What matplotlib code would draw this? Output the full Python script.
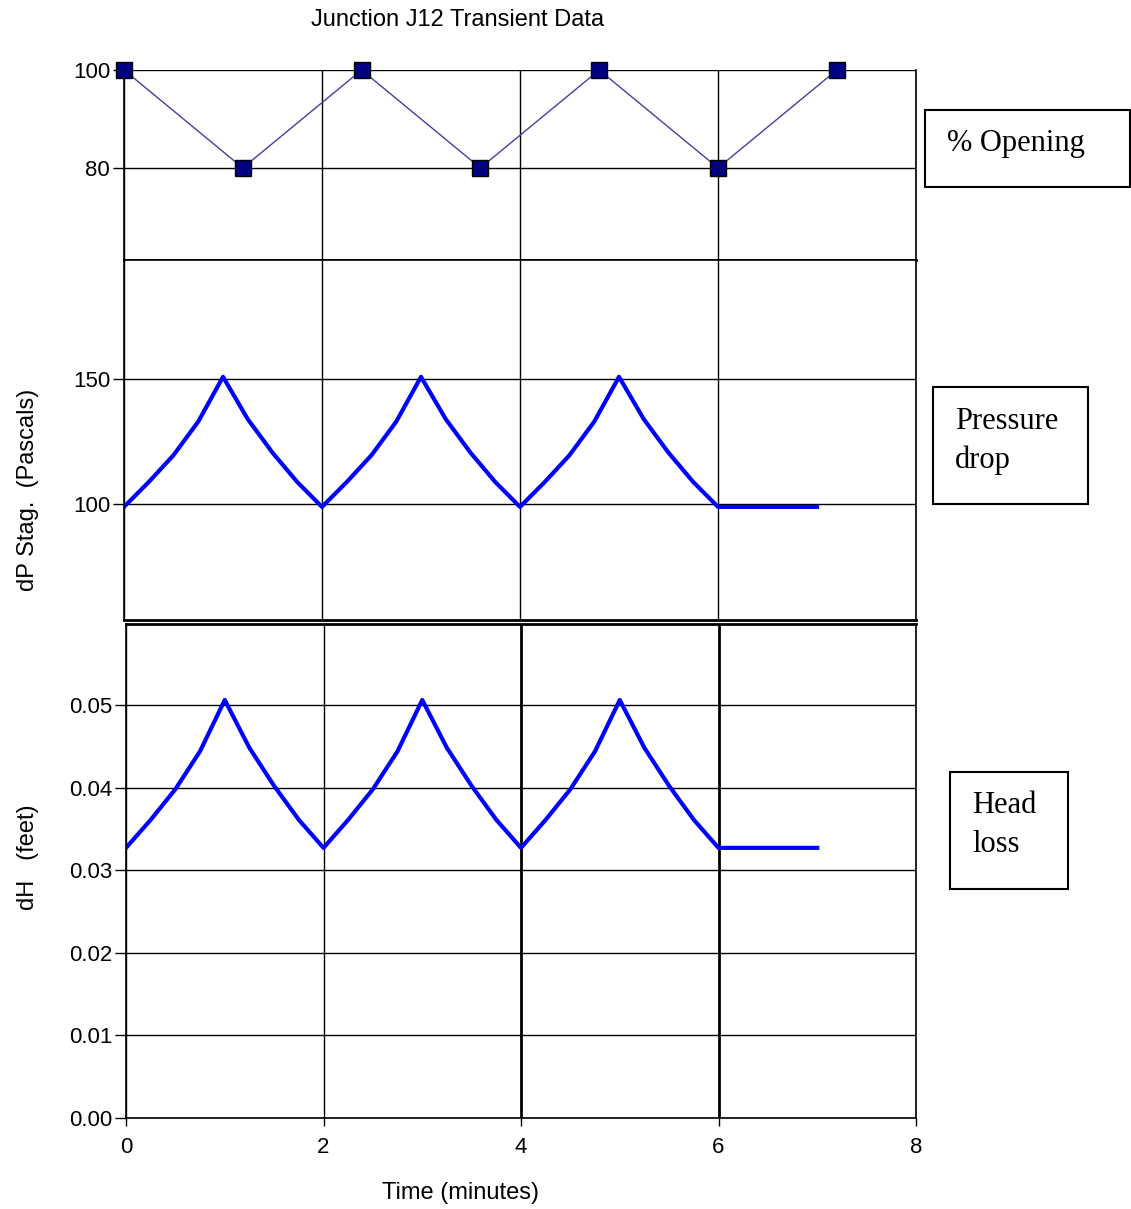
import matplotlib.pyplot as plt
from matplotlib.patches import Rectangle

# данные
t_open = [0, 1.2, 2.4, 3.6, 4.8, 6.0, 7.2]
opening = [100, 80, 100, 80, 100, 80, 100]

t_flow = [0, 0.25, 0.5, 0.75, 1.0, 1.25, 1.5, 1.75, 2.0,
          2.25, 2.5, 2.75, 3.0, 3.25, 3.5, 3.75, 4.0,
          4.25, 4.5, 4.75, 5.0, 5.25, 5.5, 5.75, 6.0, 7.0]
dp_stag = [98.7, 108.7, 119.5, 133, 151, 134, 120.5, 108.7, 98.7,
           108.7, 119.5, 133, 151, 134, 120.5, 108.7, 98.7,
           108.7, 119.5, 133, 151, 134, 120.5, 108.7, 98.7, 98.7]
dh_feet = [0.0327, 0.0361, 0.0398, 0.0444, 0.0506, 0.0448, 0.0402, 0.0361, 0.0327,
           0.0361, 0.0398, 0.0444, 0.0506, 0.0448, 0.0402, 0.0361, 0.0327,
           0.0361, 0.0398, 0.0444, 0.0506, 0.0448, 0.0402, 0.0361, 0.0327, 0.0327]

x_ticks = [0, 2, 4, 6, 8]
open_ticks = [80, 100]
dp_ticks = [100, 150]
dh_ticks = [0.00, 0.01, 0.02, 0.03, 0.04, 0.05]

plt.rcParams['font.family'] = ['Liberation Sans', 'DejaVu Sans']
W, H = 1131, 1209
fig = plt.figure(figsize=(W / 100, H / 100), dpi=100)


def px_axes(x0, y0, x1, y1):
    return fig.add_axes([x0 / W, 1 - y1 / H, (x1 - x0) / W, (y1 - y0) / H])


def style(ax, yticks, fmt, show_x=False):
    ax.set_xlim(0, 8)
    ax.set_xticks(x_ticks)
    ax.set_yticks(yticks)
    ax.set_yticklabels([fmt % v for v in yticks])
    ax.grid(True, color='black', linewidth=1)
    ax.set_axisbelow(True)
    for s in ax.spines.values():
        s.set_linewidth(1.2)
    ax.tick_params(axis='y', length=8, width=1, labelsize=16, pad=2)
    ax.tick_params(axis='x', length=6, width=1, labelsize=16, pad=8,
                   labelbottom=show_x)


ax1 = px_axes(124, 70, 916, 260)
ax1.plot(t_open, opening, color='#4040a0', linewidth=1, marker='s',
         markersize=11, markerfacecolor='#000080', markeredgecolor='black',
         clip_on=False, zorder=5)
ax1.set_ylim(61.2, 100)
style(ax1, open_ticks, '%d')
ax1.spines['top'].set_visible(False)
ax1.spines['bottom'].set_linewidth(2)
ax1.tick_params(axis='x', length=0)

ax2 = px_axes(124, 260, 916, 620)
ax2.plot(t_flow, dp_stag, color='#0000ff', linewidth=3)
ax2.set_ylim(53.2, 198)
style(ax2, dp_ticks, '%d')
ax2.tick_params(axis='x', length=0)
ax2.spines['bottom'].set_linewidth(2)

ax3 = px_axes(126, 624, 916, 1118)
ax3.plot(t_flow, dh_feet, color='#0000ff', linewidth=3)
ax3.set_ylim(0, 0.0598)
style(ax3, dh_ticks, '%.2f', show_x=True)
ax3.spines['top'].set_linewidth(2)
for ln in ax3.get_xgridlines()[2:4]:
    ln.set_linewidth(2)

fig.text(458 / W, 1 - 20 / H, 'Junction J12 Transient Data', fontsize=17,
         ha='center', va='center')
fig.text(460 / W, 1 - 1193 / H, 'Time (minutes)', fontsize=17,
         ha='center', va='center')
fig.text(28 / W, 1 - 490 / H, 'dP Stag.  (Pascals)', fontsize=17,
         ha='center', va='center', rotation=90)
fig.text(28 / W, 1 - 857 / H, 'dH   (feet)', fontsize=17,
         ha='center', va='center', rotation=90)

# подписи в рамках справа
boxes = [(925, 110, 1130, 187, '% Opening', 947, 143),
         (933, 387, 1088, 504, 'Pressure\ndrop', 955, 441),
         (950, 772, 1068, 889, 'Head\nloss', 972, 825)]
for x0, y0, x1, y1, label, tx, ty in boxes:
    fig.patches.append(Rectangle((x0 / W, 1 - y1 / H), (x1 - x0) / W, (y1 - y0) / H,
                                 transform=fig.transFigure, fill=False,
                                 edgecolor='black', linewidth=1.5))
    fig.text(tx / W, 1 - ty / H, label, fontsize=22, family='Liberation Serif',
             ha='left', va='center', linespacing=1.45)

plt.savefig('out.png', dpi=100)
